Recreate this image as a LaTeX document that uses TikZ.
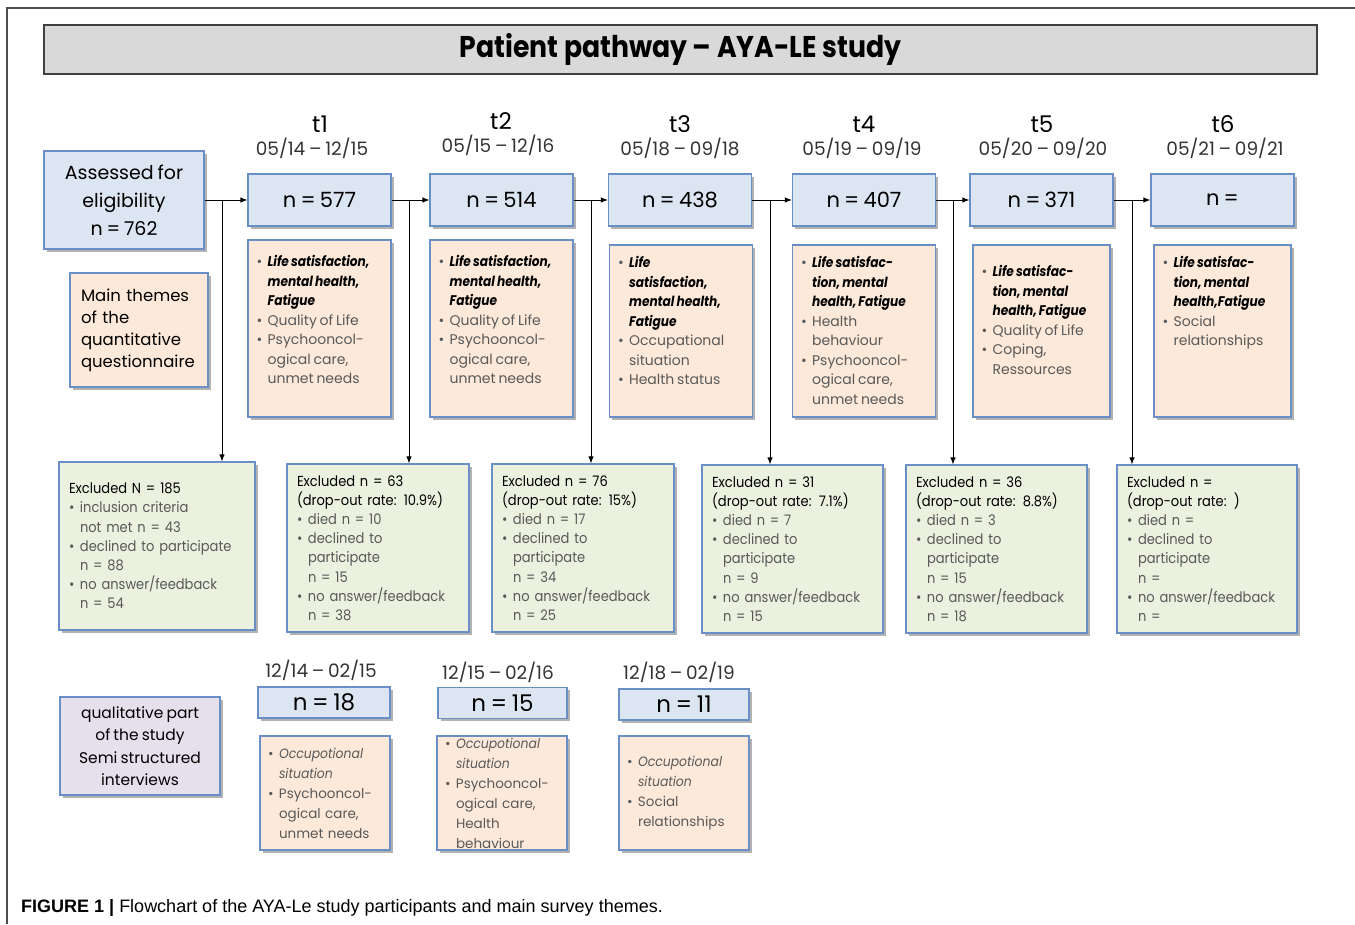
\documentclass[tikz,border=0pt]{standalone}
\usepackage{fontspec}
\setmainfont{Poppins}[WordSpace=0.75, BoldItalicFeatures={FakeStretch=0.87}, ItalicFeatures={FakeStretch=0.92}]
\newfontfamily\titlefont{Poppins}[FakeStretch=0.89]
\newfontfamily\exfont{Poppins}[FakeStretch=0.9, WordSpace=0.75]
\newfontfamily\capfont{Liberation Sans}
\usetikzlibrary{positioning,shadows,arrows.meta}

\definecolor{boxblue}{HTML}{DCE6F2}
\definecolor{edgeblue}{HTML}{6A8FC6}
\definecolor{peach}{HTML}{FDE9D9}
\definecolor{palegreen}{HTML}{EBF1DE}
\definecolor{lavender}{HTML}{E5E0EC}
\definecolor{titlegray}{HTML}{D9D9D9}
\definecolor{itemgray}{HTML}{595959}

\newcommand{\fsz}[2]{\fontsize{#1}{#2}\selectfont}
\newcommand{\itembul}{\makebox[11pt][l]{\textbullet}}
\newcommand{\itemind}{\hspace*{11pt}}
\newcommand{\boldit}[1]{\textcolor{black}{\textbf{\textit{#1}}}}

\tikzset{
  boxshadow/.style={drop shadow={shadow xshift=2.5pt, shadow yshift=-2.5pt, opacity=0.3, fill=black}},
  panel/.style={draw=edgeblue, line width=1.2pt, inner sep=0pt, boxshadow},
  nbox/.style={panel, fill=boxblue, minimum width=143pt, minimum height=52pt, font=\fsz{21}{25}},
  smallnbox/.style={panel, fill=boxblue, minimum height=31pt, font=\fsz{23}{26}},
  themebox/.style={panel, fill=peach, minimum width=143pt, minimum height=177pt},
  themetext/.style={align=left, inner sep=0pt, font=\fsz{14}{19.5}, text=itemgray},
  exbox/.style={panel, fill=palegreen, minimum height=168pt, align=left, inner xsep=10pt, font=\exfont\fsz{14.5}{19.2}, text=itemgray},
  qbox/.style={panel, fill=peach, minimum width=130pt, minimum height=114pt, align=left, text width=114pt, inner xsep=8pt, font=\fsz{13.5}{20}, text=itemgray},
  tlabel/.style={font=\fsz{23}{25}},
  datelabel/.style={font=\fsz{18.5}{20}, text=black!80},
  flow/.style={-{Latex[length=7pt,width=5.5pt]}, line width=0.9pt}
}

\begin{document}
\begin{tikzpicture}[x=1pt, y=-1pt]
\useasboundingbox (0,0) rectangle (1355,924);
\draw[line width=1.2pt, black!70] (1355,8) -- (7,8) -- (7,924);

\node[draw=black!75, line width=1.5pt, fill=titlegray, minimum width=1273pt, minimum height=49pt, font=\titlefont\bfseries\fsz{30}{34}] (title) at (680.5,49.5) {Patient pathway – AYA-LE study};

% time points
\node[tlabel] (t1) at (320,124) {t1};
\node[tlabel] (t2) at (501,121) {t2};
\node[tlabel] (t3) at (680,124) {t3};
\node[tlabel] (t4) at (864,124) {t4};
\node[tlabel] (t5) at (1042,124) {t5};
\node[tlabel] (t6) at (1223,124) {t6};
\node[datelabel] (d1) at (312,148) {05/14 – 12/15};
\node[datelabel] (d2) at (498,145) {05/15 – 12/16};
\node[datelabel] (d3) at (680,148) {05/18 – 09/18};
\node[datelabel] (d4) at (862,148) {05/19 – 09/19};
\node[datelabel] (d5) at (1043,148) {05/20 – 09/20};
\node[datelabel] (d6) at (1225,148) {05/21 – 09/21};

% participants
\node[panel, fill=boxblue, minimum width=160pt, minimum height=98pt, align=center, font=\fsz{19}{28}] (assess) at (124,200) {Assessed for\\eligibility\\n = 762};
\node[nbox] (n1) at (319.5,200) {n = 577};
\node[nbox] (n2) at (501.5,200) {n = 514};
\node[nbox] (n3) at (680,200) {n = 438};
\node[nbox] (n4) at (864,200) {n = 407};
\node[nbox] (n5) at (1041.5,200) {n = 371};
\node[nbox] (n6) at (1222.5,200) {n =};

% themes
\node[panel, fill=peach, minimum height=114pt, align=left, text width=116pt, inner xsep=11pt, font=\fsz{16.5}{22}] (mainthemes) at (139,330) {Main themes\\of the\\quantitative\\questionnaire};
\node[themebox, minimum height=177pt] (th1) at (319.5,328.5) {};
\node[themebox, minimum height=177pt] (th2) at (501.5,328.5) {};
\node[themebox, minimum height=172pt] (th3) at (681,331) {};
\node[themebox, minimum height=172pt] (th4) at (864,331) {};
\node[themebox, minimum width=137pt, minimum height=172pt] (th5) at (1041.5,331) {};
\node[themebox, minimum width=137pt, minimum height=172pt] (th6) at (1222.5,331) {};
\node[themetext, below right=16pt and 9pt of th1.north west] (tx1) {\itembul\boldit{Life satisfaction,}\\\itemind\boldit{mental health,}\\\itemind\boldit{Fatigue}\\\itembul Quality of Life\\\itembul Psychooncol-\\\itemind ogical care,\\\itemind unmet needs};
\node[themetext, below right=16pt and 9pt of th2.north west] (tx2) {\itembul\boldit{Life satisfaction,}\\\itemind\boldit{mental health,}\\\itemind\boldit{Fatigue}\\\itembul Quality of Life\\\itembul Psychooncol-\\\itemind ogical care,\\\itemind unmet needs};
\node[themetext, below right=12pt and 9pt of th3.north west] (tx3) {\itembul\boldit{Life}\\\itemind\boldit{satisfaction,}\\\itemind\boldit{mental health,}\\\itemind\boldit{Fatigue}\\\itembul Occupational\\\itemind situation\\\itembul Health status};
\node[themetext, below right=12pt and 9pt of th4.north west] (tx4) {\itembul\boldit{Life satisfac-}\\\itemind\boldit{tion, mental}\\\itemind\boldit{health, Fatigue}\\\itembul Health\\\itemind behaviour\\\itembul Psychooncol-\\\itemind ogical care,\\\itemind unmet needs};
\node[themetext, below right=21pt and 9pt of th5.north west] (tx5) {\itembul\boldit{Life satisfac-}\\\itemind\boldit{tion, mental}\\\itemind\boldit{health, Fatigue}\\\itembul Quality of Life\\\itembul Coping,\\\itemind Ressources};
\node[themetext, below right=12pt and 9pt of th6.north west] (tx6) {\itembul\boldit{Life satisfac-}\\\itemind\boldit{tion, mental}\\\itemind\boldit{health,Fatigue}\\\itembul Social\\\itemind relationships};

% excluded
\node[exbox, text width=176pt] (ex0) at (157,546) {\textcolor{black}{Excluded N = 185}\\\itembul inclusion criteria\\\itemind not met n = 43\\\itembul declined to participate\\\itemind n = 88\\\itembul no answer/feedback\\\itemind n = 54};
\node[exbox, text width=162pt] (ex1) at (378,548) {\textcolor{black}{Excluded n = 63}\\\textcolor{black}{(drop-out rate: 10.9\%)}\\\itembul died n = 10\\\itembul declined to\\\itemind participate\\\itemind n = 15\\\itembul no answer/feedback\\\itemind n = 38};
\node[exbox, text width=162pt] (ex2) at (583,548) {\textcolor{black}{Excluded n = 76}\\\textcolor{black}{(drop-out rate: 15\%)}\\\itembul died n = 17\\\itembul declined to\\\itemind participate\\\itemind n = 34\\\itembul no answer/feedback\\\itemind n = 25};
\node[exbox, text width=161pt] (ex3) at (792.5,549) {\textcolor{black}{Excluded n = 31}\\\textcolor{black}{(drop-out rate: 7.1\%)}\\\itembul died n = 7\\\itembul declined to\\\itemind participate\\\itemind n = 9\\\itembul no answer/feedback\\\itemind n = 15};
\node[exbox, text width=161pt] (ex4) at (996.5,549) {\textcolor{black}{Excluded n = 36}\\\textcolor{black}{(drop-out rate: 8.8\%)}\\\itembul died n = 3\\\itembul declined to\\\itemind participate\\\itemind n = 15\\\itembul no answer/feedback\\\itemind n = 18};
\node[exbox, text width=160pt] (ex5) at (1207,549) {\textcolor{black}{Excluded n =}\\\textcolor{black}{(drop-out rate: )}\\\itembul died n =\\\itembul declined to\\\itemind participate\\\itemind n =\\\itembul no answer/feedback\\\itemind n =};

% flow
\coordinate (b0) at (222,200);
\coordinate (b1) at (409,200);
\coordinate (b2) at (591,200);
\coordinate (b3) at (770,200);
\coordinate (b4) at (953,200);
\coordinate (b5) at (1132,200);
\draw[flow] (assess) -- (n1);
\draw[flow] (n1) -- (n2);
\draw[flow] (n2) -- (n3);
\draw[flow] (n3) -- (n4);
\draw[flow] (n4) -- (n5);
\draw[flow] (n5) -- (n6);
\draw[flow] (b0) -- (b0 |- ex0.north);
\draw[flow] (b1) -- (b1 |- ex1.north);
\draw[flow] (b2) -- (b2 |- ex2.north);
\draw[flow] (b3) -- (b3 |- ex3.north);
\draw[flow] (b4) -- (b4 |- ex4.north);
\draw[flow] (b5) -- (b5 |- ex5.north);

% qualitative part
\node[panel, fill=lavender, minimum width=160pt, minimum height=98pt, align=center, font=\fsz{15.5}{22.5}] (qual) at (140,746) {qualitative part\\of the study\\Semi structured\\interviews};
\node[datelabel] (qd1) at (321,670) {12/14 – 02/15};
\node[datelabel] (qd2) at (498,672) {12/15 – 02/16};
\node[datelabel] (qd3) at (679,672) {12/18 – 02/19};
\node[smallnbox, minimum width=132pt] (qn1) at (324,702.5) {n = 18};
\node[smallnbox, minimum width=129pt] (qn2) at (502.5,703) {n = 15};
\node[smallnbox, minimum width=130pt] (qn3) at (684,704.5) {n = 11};
\node[qbox] (q1) at (325,793) {\itembul\textit{Occupotional}\\\itemind\textit{situation}\\\itembul Psychooncol-\\\itemind ogical care,\\\itemind unmet needs};
\node[qbox] (q2) at (502,793) {\itembul\textit{Occupotional}\\\itemind\textit{situation}\\\itembul Psychooncol-\\\itemind ogical care,\\\itemind Health\\\itemind behaviour};
\node[qbox] (q3) at (684,793) {\itembul\textit{Occupotional}\\\itemind\textit{situation}\\\itembul Social\\\itemind relationships};

\node[anchor=west, inner sep=0pt, font=\capfont\fsz{18}{20}] (caption) at (21,908) {\textbf{FIGURE 1 |} Flowchart of the AYA-Le study participants and main survey themes.};
\end{tikzpicture}
\end{document}
